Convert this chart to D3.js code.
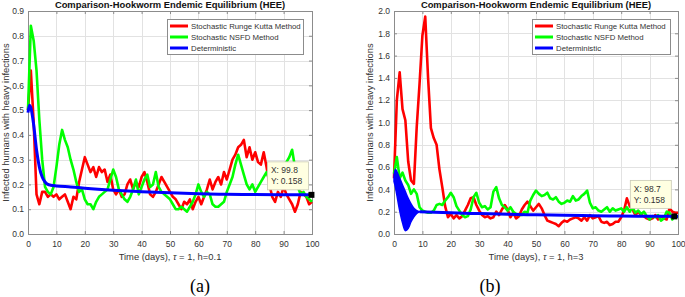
<!DOCTYPE html>
<html>
<head>
<meta charset="utf-8">
<script src="https://cdn.jsdelivr.net/npm/d3@7"></script>
<style>
body{margin:0;background:#fff;}
svg{display:block;font-family:"Liberation Sans",Arial,Helvetica,sans-serif;}
</style>
</head>
<body>
<svg id="chart" width="685" height="297"></svg>
<script>
// sample grid of the stochastic runs (one point per day)
var days = d3.range(0, 101);

// panel (a): h = 0.1
var redA = [0.50,0.66,0.45,0.16,0.12,0.17,0.17,0.15,0.16,0.15,
    0.16,0.14,0.15,0.16,0.13,0.10,0.15,0.14,0.21,0.26,
    0.31,0.28,0.25,0.27,0.23,0.27,0.25,0.26,0.21,0.24,
    0.18,0.16,0.18,0.15,0.16,0.20,0.22,0.18,0.21,0.19,
    0.23,0.25,0.21,0.16,0.15,0.17,0.20,0.23,0.21,0.19,
    0.17,0.15,0.14,0.12,0.10,0.13,0.12,0.14,0.10,0.13,
    0.15,0.12,0.15,0.18,0.22,0.18,0.21,0.23,0.20,0.25,
    0.22,0.26,0.30,0.32,0.35,0.36,0.38,0.31,0.35,0.30,
    0.33,0.29,0.28,0.33,0.27,0.20,0.15,0.13,0.17,0.15,
    0.19,0.16,0.14,0.12,0.09,0.12,0.17,0.16,0.15,0.12,0.13];
var greenA = [0.50,0.84,0.78,0.66,0.46,0.30,0.19,0.17,0.16,0.19,
    0.27,0.36,0.42,0.38,0.35,0.30,0.26,0.21,0.17,0.18,
    0.14,0.12,0.12,0.10,0.13,0.15,0.16,0.17,0.18,0.22,
    0.26,0.23,0.18,0.16,0.14,0.13,0.15,0.18,0.22,0.16,
    0.19,0.22,0.24,0.19,0.20,0.25,0.19,0.17,0.16,0.15,
    0.14,0.12,0.10,0.10,0.11,0.10,0.09,0.11,0.13,0.16,
    0.20,0.17,0.15,0.17,0.16,0.12,0.11,0.11,0.12,0.13,
    0.17,0.20,0.23,0.28,0.32,0.28,0.24,0.20,0.18,0.20,
    0.17,0.19,0.21,0.23,0.25,0.22,0.19,0.21,0.24,0.22,
    0.26,0.29,0.31,0.34,0.27,0.19,0.16,0.17,0.15,0.14,0.13];
var blueAT = [0,0.5,1,2,3,4,5,6,7,8,10,15,20,30,40,50,60,70,80,90,100];
var blueAV = [0.49,0.52,0.51,0.44,0.34,0.27,0.23,0.21,0.20,0.197,0.194,0.19,0.185,0.177,0.171,0.166,0.162,0.160,0.159,0.158,0.158];

// panel (b): h = 3
var redB = [0.50,1.20,1.45,1.12,1.02,0.65,0.48,0.45,0.96,1.35,
    1.78,1.95,1.40,0.95,0.86,0.80,0.58,0.42,0.25,0.15,
    0.18,0.14,0.17,0.14,0.16,0.21,0.26,0.32,0.33,0.26,
    0.21,0.17,0.15,0.16,0.14,0.15,0.20,0.17,0.22,0.26,
    0.22,0.15,0.19,0.14,0.16,0.22,0.26,0.29,0.25,0.21,
    0.24,0.27,0.23,0.17,0.12,0.11,0.10,0.09,0.07,0.10,
    0.12,0.11,0.13,0.14,0.15,0.14,0.12,0.15,0.12,0.17,
    0.14,0.15,0.16,0.11,0.10,0.11,0.08,0.09,0.11,0.11,
    0.15,0.21,0.32,0.25,0.22,0.17,0.20,0.17,0.16,0.14,
    0.13,0.14,0.17,0.13,0.16,0.14,0.13,0.23,0.20,0.19,0.19];
var greenB = [0.54,0.69,0.50,0.55,0.48,0.44,0.36,0.40,0.36,0.24,
    0.21,0.20,0.19,0.19,0.21,0.26,0.27,0.26,0.30,0.33,
    0.37,0.33,0.25,0.21,0.17,0.15,0.16,0.22,0.33,0.37,
    0.28,0.24,0.25,0.22,0.24,0.38,0.42,0.32,0.26,0.24,
    0.21,0.24,0.20,0.18,0.17,0.17,0.20,0.19,0.30,0.35,
    0.39,0.36,0.34,0.35,0.37,0.32,0.31,0.33,0.29,0.27,
    0.28,0.30,0.29,0.34,0.30,0.31,0.34,0.36,0.39,0.28,
    0.23,0.24,0.21,0.20,0.22,0.24,0.20,0.23,0.21,0.22,
    0.23,0.20,0.24,0.20,0.24,0.19,0.21,0.18,0.20,0.16,
    0.13,0.16,0.15,0.17,0.12,0.14,0.20,0.19,0.13,0.16,0.15];
// deterministic oscillation band of the h=3 run, then the smooth tail
var bandT  = [0,0.5,1,2,3,4,5,6,7,8,9];
var bandHi = [0.52,0.58,0.56,0.50,0.44,0.38,0.32,0.27,0.23,0.21,0.20];
var bandLo = [0.47,0.42,0.35,0.21,0.10,0.03,0.05,0.11,0.155,0.185,0.20];
var blueBT = [9,20,30,40,50,60,70,80,90,100];
var blueBV = [0.20,0.19,0.183,0.177,0.172,0.168,0.164,0.161,0.159,0.158];

var seriesNames = ['Stochastic Runge Kutta Method', 'Stochastic NSFD Method', 'Deterministic'];
var seriesColors = ['#ff0000', '#00ff00', '#0000ff'];
var xTicks = [0,10,20,30,40,50,60,70,80,90,100];
var yTicksA = [0,0.1,0.2,0.3,0.4,0.5,0.6,0.7,0.8,0.9];
var yTicksB = [0,0.2,0.4,0.6,0.8,1,1.2,1.4,1.6,1.8,2];

var svg = d3.select('#chart');
var TOP = 11, BOT = 234;
var BOX = '#8c8c8c', GRID = '#e2e2e2', TXT = '#333';

function zip(t, v){ return t.map(function(d,i){ return [d, v[i]]; }); }

function drawPanel(p) {
    var x = d3.scaleLinear().domain([0,100]).range([p.left, p.right]);
    var y = d3.scaleLinear().domain([0, p.yMax]).range([BOT, TOP]);
    var g = svg.append('g');

    // grid
    g.selectAll('line.gx').data(xTicks).join('line').attr('class','gx')
        .attr('x1',function(d){ return Math.round(x(d))+0.5; }).attr('x2',function(d){ return Math.round(x(d))+0.5; })
        .attr('y1',TOP).attr('y2',BOT).attr('stroke',GRID);
    g.selectAll('line.gy').data(p.yTicks).join('line').attr('class','gy')
        .attr('y1',function(d){ return Math.round(y(d))+0.5; }).attr('y2',function(d){ return Math.round(y(d))+0.5; })
        .attr('x1',p.left).attr('x2',p.right).attr('stroke',GRID);

    // axes (inward ticks on all four sides)
    var ax = [
        d3.axisBottom(x).tickValues(xTicks).tickSizeInner(-3).tickSizeOuter(0).tickPadding(7),
        d3.axisTop(x).tickValues(xTicks).tickSizeInner(-3).tickSizeOuter(0).tickFormat(''),
        d3.axisLeft(y).tickValues(p.yTicks).tickSizeInner(-3).tickSizeOuter(0).tickPadding(4),
        d3.axisRight(y).tickValues(p.yTicks).tickSizeInner(-3).tickSizeOuter(0).tickFormat('')
    ];
    var at = ['translate(0,'+BOT+')','translate(0,'+TOP+')','translate('+p.left+',0)','translate('+p.right+',0)'];
    ax.forEach(function(a,i){
        var ga = g.append('g').attr('transform',at[i]).call(a);
        ga.select('.domain').remove();
        ga.selectAll('line').attr('stroke',BOX);
        ga.selectAll('text').attr('fill',TXT).attr('font-size','8.5px').attr('font-family',null);
    });
    g.append('rect').attr('x',p.left+0.5).attr('y',TOP+0.5)
        .attr('width',p.right-p.left).attr('height',BOT-TOP)
        .attr('fill','none').attr('stroke',BOX);

    // curves
    var line = d3.line().x(function(d){ return x(d[0]); }).y(function(d){ return y(d[1]); });
    g.append('path').datum(zip(days,p.red)).attr('d',line)
        .attr('fill','none').attr('stroke',seriesColors[0]).attr('stroke-width',2.6).attr('stroke-linejoin','round');
    g.append('path').datum(zip(days,p.green)).attr('d',line)
        .attr('fill','none').attr('stroke',seriesColors[1]).attr('stroke-width',2.6).attr('stroke-linejoin','round');
    if (p.band) {
        var area = d3.area().x(function(d){ return x(d[0]); })
            .y0(function(d){ return y(d[1]); }).y1(function(d){ return y(d[2]); }).curve(d3.curveMonotoneX);
        g.append('path').datum(p.band.t.map(function(t,i){ return [t,p.band.lo[i],p.band.hi[i]]; }))
            .attr('d',area).attr('fill',seriesColors[2]).attr('stroke',seriesColors[2]).attr('stroke-width',1.5);
    }
    g.append('path').datum(zip(p.blueT,p.blueV)).attr('d',line.curve(d3.curveMonotoneX))
        .attr('fill','none').attr('stroke',seriesColors[2]).attr('stroke-width',3);

    // data tip
    var px = x(p.tip[0]), py = y(p.tip[1]);
    var tb = g.append('g').attr('transform','translate('+(px-44)+','+(py-p.tipUp)+')');
    tb.append('rect').attr('width',41).attr('height',28).attr('fill','#ffffe1').attr('stroke','#c8c8b4').attr('stroke-width',0.8);
    tb.append('text').attr('x',3.5).attr('y',11.5).attr('font-size','8.5px').attr('fill',TXT).text('X: '+p.tip[0]);
    tb.append('text').attr('x',3.5).attr('y',22.5).attr('font-size','8.5px').attr('fill',TXT).text('Y: '+p.tip[1]);
    g.append('rect').attr('x',px-3).attr('y',py-3).attr('width',6).attr('height',6).attr('fill','#000');

    // legend
    var lg = g.append('g').attr('transform','translate('+p.legX+',19)');
    lg.append('rect').attr('x',0.5).attr('y',0.5).attr('width',p.legW).attr('height',35)
        .attr('fill','#fff').attr('stroke',BOX);
    seriesNames.forEach(function(n,i){
        var cy = 7 + i*11;
        lg.append('line').attr('x1',3).attr('x2',21).attr('y1',cy).attr('y2',cy)
            .attr('stroke',seriesColors[i]).attr('stroke-width',3);
        lg.append('text').attr('x',24).attr('y',cy+2.8).attr('font-size','7.8px').attr('fill',TXT).text(n);
    });

    // titles and labels
    var cx = (p.left+p.right)/2;
    g.append('text').attr('x',cx).attr('y',8).attr('text-anchor','middle')
        .attr('font-size','9.4px').attr('font-weight','bold').attr('fill','#111')
        .text('Comparison-Hookworm Endemic Equilibrium (HEE)');
    var xl = g.append('text').attr('x',cx).attr('y',259.5).attr('text-anchor','middle')
        .attr('font-size','9.4px').attr('fill',TXT);
    xl.append('tspan').text('Time (days), ');
    xl.append('tspan').attr('font-style','italic').text('\u03c4');
    xl.append('tspan').text(' = 1, h=' + p.h);
    g.append('text').attr('transform','translate('+p.yLabX+','+((TOP+BOT)/2)+') rotate(-90)')
        .attr('text-anchor','middle').attr('font-size','9.4px').attr('fill',TXT)
        .text('Infected humans with heavy infections');
    g.append('text').attr('x',p.subX).attr('y',292).attr('text-anchor','middle')
        .attr('font-family','"Liberation Serif","Times New Roman",serif').attr('font-size','18px').attr('fill','#000')
        .text(p.sub);
}

drawPanel({left:28, right:312, yMax:0.9, yTicks:yTicksA, red:redA, green:greenA,
    blueT:blueAT, blueV:blueAV, tip:[99.8,0.158], tipUp:33, legX:167, legW:136,
    h:'0.1', yLabX:8.5, subX:200, sub:'(a)'});
drawPanel({left:394, right:678, yMax:2, yTicks:yTicksB, red:redB, green:greenB,
    band:{t:bandT, hi:bandHi, lo:bandLo}, blueT:blueBT, blueV:blueBV,
    tip:[98.7,0.158], tipUp:36, legX:532, legW:138,
    h:'3', yLabX:373, subX:490, sub:'(b)'});
</script>
</body>
</html>
